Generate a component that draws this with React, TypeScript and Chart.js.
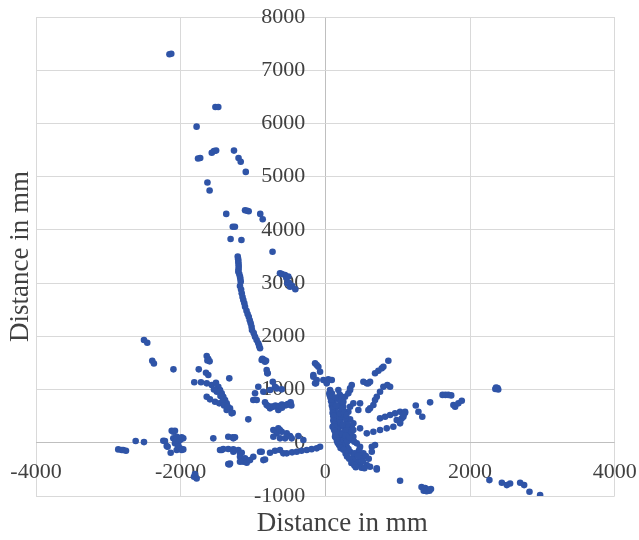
import React, { useEffect, useRef } from "react";
import { Chart, registerables } from "chart.js";

Chart.register(...registerables);

const X_MIN = -4000;
const X_MAX = 4000;
const X_STEP = 2000;
const Y_MIN = -1000;
const Y_MAX = 8000;
const Y_STEP = 1000;
const AXIS_TITLE = "Distance in mm";

const upperArc: number[][] = [
  [-2155, 7300], [-2130, 7310],
  [-1520, 6310], [-1480, 6310],
  [-1780, 5940],
  [-1760, 5340], [-1730, 5350],
  [-1570, 5450], [-1540, 5480], [-1510, 5490],
  [-1263, 5490], [-1200, 5350], [-1170, 5280], [-1100, 5090],
  [-1630, 4890], [-1600, 4740],
  [-1370, 4300], [-1110, 4370], [-1080, 4360], [-1060, 4350], [-900, 4300], [-866, 4200],
  [-1280, 4060], [-1250, 4060], [-1310, 3830], [-1160, 3810], [-730, 3590],
  [-1211, 3497], [-1205, 3450], [-1203, 3403], [-1200, 3360], [-1198, 3309], [-1200, 3260],
  [-1203, 3215], [-1190, 3170], [-1180, 3121], [-1175, 3080], [-1170, 3027], [-1180, 2946],
  [-1165, 2880], [-1156, 2809], [-1145, 2740], [-1134, 2683], [-1120, 2620], [-1110, 2557],
  [-1090, 2480], [-1075, 2420], [-1059, 2369], [-1045, 2300], [-1032, 2245], [-1020, 2180],
  [-1014, 2119], [-990, 2060], [-972, 1993], [-950, 1930], [-927, 1869], [-915, 1820],
  [-903, 1775], [-880, 1555], [-870, 1580], [-850, 1560], [-834, 1523], [-820, 1540],
  [-811, 1367], [-802, 1305],
];

const cluster3000: number[][] = [
  [-627, 3185], [-600, 3170], [-557, 3153], [-540, 3100], [-512, 3121],
  [-526, 2997], [-500, 3000], [-488, 2933], [-460, 2950], [-415, 2884],
];

const leftMiddle: number[][] = [
  [-2507, 1930], [-2462, 1880], [-2393, 1540], [-2370, 1490], [-2100, 1380],
  [-1640, 1630], [-1620, 1580], [-1600, 1530], [-1630, 1545], [-1750, 1380],
  [-1650, 1316], [-1618, 1273], [-1328, 1211], [-1812, 1136], [-1719, 1136],
  [-1640, 1117], [-1571, 1085], [-1512, 1128], [-1480, 1053], [-1456, 991],
  [-1433, 929], [-1411, 865], [-1387, 803], [-1364, 741], [-1318, 647],
  [-1281, 564], [-1640, 865], [-1595, 816], [-1525, 771], [-1466, 741],
  [-1065, 440], [-1364, 615], [-1295, 553], [-996, 803],
  [-1500, 960], [-1450, 880], [-1420, 780], [-1400, 700], [-1350, 680], [-1540, 1000],
];

const centerLeft: number[][] = [
  [-927, 1053], [-972, 929], [-949, 803], [-857, 959], [-765, 991],
  [-696, 1053], [-672, 1022], [-603, 1004], [-727, 1147], [-797, 1305],
  [-834, 760], [-811, 709], [-790, 690], [-765, 647], [-740, 680], [-719, 677],
  [-690, 700], [-650, 615], [-640, 690], [-627, 690], [-600, 720], [-560, 700],
  [-534, 709], [-520, 730], [-480, 760], [-470, 700], [-600, 660],
];

const nearZeroLeft: number[][] = [
  [-2863, -124], [-2816, -137], [-2794, -137], [-2756, -150], [-2622, 32], [-2507, 13],
  [-2240, 38], [-2217, 32], [-2193, -62], [-2180, -75], [-2138, -188], [-2124, 226],
  [-2102, 207], [-2079, 226], [-2102, 83], [-2079, -11], [-2055, 113], [-2055, 51],
  [-2055, -137], [-2033, -43], [-2033, -75], [-2009, 51], [-2009, -105], [-1986, 102],
  [-1986, -137], [-1964, 83], [-1964, -124], [-1816, -639], [-1802, -588], [-1779, -670],
  [-1549, 83], [-1433, -137], [-1342, -400], [-1342, 113], [-1281, 102], [-1272, 83],
  [-1249, 102], [-1456, -137], [-1411, -118], [-1342, -118], [-1272, -124], [-1272, -169],
  [-1203, -137], [-1180, -199], [-1156, -188], [-1180, -263], [-1110, -293], [-1134, -357],
  [-1087, -376], [-1180, -357], [-1041, -325], [-996, -263], [-1318, -388], [-1328, -406],
  [-903, -169], [-880, -169], [-857, -325], [-834, -313], [-765, -188], [-696, -150],
  [-627, -137], [-581, -199], [-534, -199], [-460, -180], [-396, -169], [-330, -150],
  [-257, -137], [-190, -120], [-119, -105], [-73, -75],
  [-719, 239], [-672, 177], [-650, 271], [-627, 239], [-627, 83], [-603, 207],
  [-557, 83], [-534, 177], [-488, 126], [-465, 83], [-373, 126], [-304, 51], [-719, 113],
];

const axisTop: number[][] = [
  [-142, 1493], [-97, 1429], [-119, 1461], [-73, 1335], [-166, 1273], [-166, 1241],
  [-119, 1179], [-142, 1117], [-129, 1117], [-28, 1179], [19, 1147], [41, 1192],
  [89, 1179], [19, 1117], [65, 991], [55, 929],
];

const mainCluster: number[][] = [
  [89, 929], [111, 835], [111, 741], [134, 647], [158, 553], [158, 459], [180, 365],
  [180, 271], [203, 177], [227, 83], [249, -11], [296, -75], [342, -169], [387, -263],
  [434, -357], [480, -419], [249, 677], [318, 583], [227, 489], [296, 395], [365, 301],
  [249, 301], [318, 177], [387, 113], [342, 51], [434, -11], [480, -75], [456, -169],
  [526, -199], [503, -293], [573, -419], [618, -451], [711, -500], [642, -75], [687, -43],
  [642, -169], [158, 271], [134, 113], [180, -11], [203, 803], [180, 991], [227, 741],
  [272, 521], [342, 440], [387, 365], [134, 489], [342, 677], [387, 741], [456, 615],
  [480, 741], [249, 771], [272, 865], [318, 929], [342, 991], [342, 1022], [365, 1085],
  [120, 600], [140, 400], [200, 420], [260, 200], [300, 250], [220, 150], [270, 100],
  [200, 40], [300, 20], [150, 180], [120, 250], [250, 600], [200, 560], [280, 460],
  [170, 700], [230, -50], [320, -120], [400, -200], [380, -320], [450, -250], [520, -350],
  [160, 80], [100, 300], [300, 340],
  [60, 900], [70, 850], [80, 780], [90, 700], [100, 640], [100, 560], [110, 500],
  [110, 420], [120, 350], [130, 300], [130, 220], [140, 160], [150, 100], [160, 40],
  [170, 0], [190, -40], [210, -100], [250, -130], [280, -200], [300, -260], [330, -300],
  [360, -380], [400, -420], [420, -460], [500, -470], [540, -480], [200, 900], [230, 860],
  [180, 820], [220, 640], [260, 560], [290, 520], [210, 380], [240, 340], [280, 140],
  [330, 110], [360, 200], [400, 20], [470, -130], [560, -250], [600, -300], [150, 700],
  [140, 850],
];

const rays: number[][] = [
  [526, 1147], [573, 1117], [595, 1117], [618, 1147], [687, 1305], [733, 1354],
  [780, 1398], [802, 1429], [871, 1542], [802, 1053], [857, 1085], [895, 1053],
  [756, 959], [711, 865], [687, 803], [618, 647], [595, 615], [664, 709],
  [756, 459], [826, 489], [895, 521], [964, 553], [1033, 583], [1102, 583],
  [387, 239], [480, 271], [573, 177], [664, 207], [756, 239], [849, 271], [940, 301],
  [1033, 365], [987, 427], [1079, 489], [1102, 564], [1057, 459], [1033, 395], [1079, 521],
  [1250, 700], [1287, 583], [1340, 489], [1448, 760],
  [1620, 900], [1660, 900], [1700, 900], [1740, 890],
  [1770, 709], [1794, 677], [1839, 741], [1886, 790],
  [2350, 1010], [2380, 1030], [2390, 1000], [2360, 1040],
];

const bottomRight: number[][] = [
  [711, -481], [1033, -714],
  [1330, -830], [1380, -850], [1420, -880], [1360, -900], [1400, -910], [1440, -900], [1460, -870],
  [2268, -701], [2440, -752], [2509, -795], [2554, -764], [2693, -752], [2748, -795],
  [2822, -921], [2969, -983],
];

const allPoints = [
  ...upperArc, ...cluster3000, ...leftMiddle, ...centerLeft, ...nearZeroLeft,
  ...axisTop, ...mainCluster, ...rays, ...bottomRight,
];

const FONT = '"Liberation Serif", "Times New Roman", serif';
const TEXT_COLOR = "#404040";
const GRID = "#d9d9d9";
const AXIS_LINE = "#bfbfbf";
const POINT_COLOR = "#2f54a7";

const crossLabels = {
  id: "crossLabels",
  beforeDatasetsDraw(chart: any) {
    const { ctx, scales } = chart;
    const xs = scales.x;
    const ys = scales.y;
    const x0 = xs.getPixelForValue(0);
    const y0 = ys.getPixelForValue(0);
    ctx.save();
    ctx.font = `22px ${FONT}`;
    ctx.fillStyle = TEXT_COLOR;
    ctx.textAlign = "right";
    ctx.textBaseline = "middle";
    ys.ticks.forEach((t: any) => {
      ctx.fillText(String(t.value), x0 - 20, ys.getPixelForValue(t.value));
    });
    ctx.textAlign = "center";
    xs.ticks.forEach((t: any) => {
      ctx.fillText(String(t.value), xs.getPixelForValue(t.value), y0 + 29);
    });
    ctx.restore();
  },
};

export default function App() {
  const ref = useRef<HTMLCanvasElement>(null);
  useEffect(() => {
    if (!ref.current) return;
    const gridColor = (c: any) => (c.tick && c.tick.value === 0 ? AXIS_LINE : GRID);
    const chart = new Chart(ref.current, {
      type: "scatter",
      data: {
        datasets: [
          {
            data: allPoints.map(([x, y]) => ({ x, y })),
            backgroundColor: POINT_COLOR,
            borderColor: POINT_COLOR,
            borderWidth: 0,
            pointRadius: 3.3,
          },
        ],
      },
      options: {
        animation: false,
        responsive: false,
        devicePixelRatio: 1,
        layout: { padding: { top: 17, right: 24.3, left: 0, bottom: 0 } },
        plugins: { legend: { display: false }, tooltip: { enabled: false } },
        scales: {
          x: {
            type: "linear",
            position: "bottom",
            min: X_MIN,
            max: X_MAX,
            ticks: { display: false, stepSize: X_STEP },
            grid: { color: gridColor, drawTicks: false, lineWidth: 1 },
            border: { display: false },
            title: {
              display: true,
              text: "     " + AXIS_TITLE,
              color: TEXT_COLOR,
              font: { family: FONT, size: 27, lineHeight: 1 },
              padding: { top: 14.5, bottom: 2.5 },
            },
          },
          y: {
            type: "linear",
            position: "left",
            min: Y_MIN,
            max: Y_MAX,
            ticks: { display: false, stepSize: Y_STEP },
            grid: { color: gridColor, drawTicks: false, lineWidth: 1 },
            border: { display: false },
            title: {
              display: true,
              text: AXIS_TITLE,
              color: TEXT_COLOR,
              font: { family: FONT, size: 27, lineHeight: 1 },
              padding: { top: 7.5, bottom: 1.5 },
            },
          },
        },
      },
      plugins: [crossLabels],
    });
    return () => chart.destroy();
  }, []);
  return (
    <div style={{ position: "absolute", left: 0, top: 0, width: 639, height: 540, background: "#fff" }}>
      <canvas ref={ref} width={639} height={540} style={{ display: "block" }} />
    </div>
  );
}
